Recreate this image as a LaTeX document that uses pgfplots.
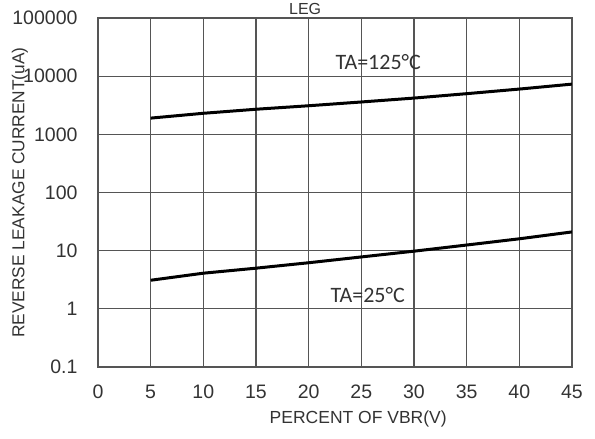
\documentclass[border=0pt]{standalone}
\usepackage{fontspec}
\setmainfont{Liberation Sans}
\newfontfamily\calfont{Carlito}
\usepackage{pgfplots}
\pgfplotsset{compat=1.18}
\definecolor{txt}{HTML}{333333}
\definecolor{gridc}{HTML}{555555}
\begin{document}
\begin{tikzpicture}
\useasboundingbox (-98pt,-72pt) rectangle (497pt,367pt);
\begin{axis}[
  scale only axis, width=474pt, height=349pt,
  ymode=log, log basis y=10,
  xmin=0, xmax=45, ymin=0.1, ymax=100000,
  xtick={0,5,10,15,20,25,30,35,40,45},
  xticklabels={0,5,10,15,20,25,30,35,40,45},
  ytick={0.1,1,10,100,1000,10000,100000},
  yticklabels={0.1,1,10,100,1000,10000,100000},
  tick label style={font=\fontsize{19.5}{22}\selectfont, text=txt},
  xticklabel style={anchor=north, text height=14pt, text depth=0pt, yshift=-14pt},
  yticklabel style={xshift=-17pt},
  major tick length=0pt, minor tick num=0,
  grid=major, major grid style={gridc, line width=1.2pt},
  axis line style={gridc, line width=1.3pt},
  xlabel={PERCENT OF VBR(V)},
  xlabel style={at={(axis description cs:0.549,0)}, anchor=center, yshift=-52pt, font=\fontsize{17.5}{20}\selectfont, text=txt},
  ylabel={REVERSE LEAKAGE CURRENT(uA)},
  ylabel style={at={(axis description cs:-0.165,0.5)}, anchor=center, rotate=0, font=\fontsize{17.3}{20}\selectfont, text=txt},
  title={LEG},
  title style={at={(axis description cs:0.437,1)}, anchor=south, yshift=-6pt, font=\fontsize{16}{18}\selectfont, text=txt},
]
\addplot[black, line width=3pt] coordinates {(5,1900) (10,2300) (15,2700) (20,3100) (25,3600) (30,4200) (35,5000) (40,6000) (45,7300)};
\addplot[black, line width=3pt] coordinates {(5,3.1) (10,4.1) (15,5.0) (20,6.2) (25,7.8) (30,9.8) (35,12.5) (40,16) (45,21)};
\node[text=txt, font=\calfont\fontsize{22}{25}\selectfont] at (axis cs:26.6,17400) {TA=125°C};
\node[text=txt, font=\calfont\fontsize{22}{25}\selectfont] at (axis cs:25.6,1.74) {TA=25°C};
\end{axis}
\end{tikzpicture}
\end{document}
